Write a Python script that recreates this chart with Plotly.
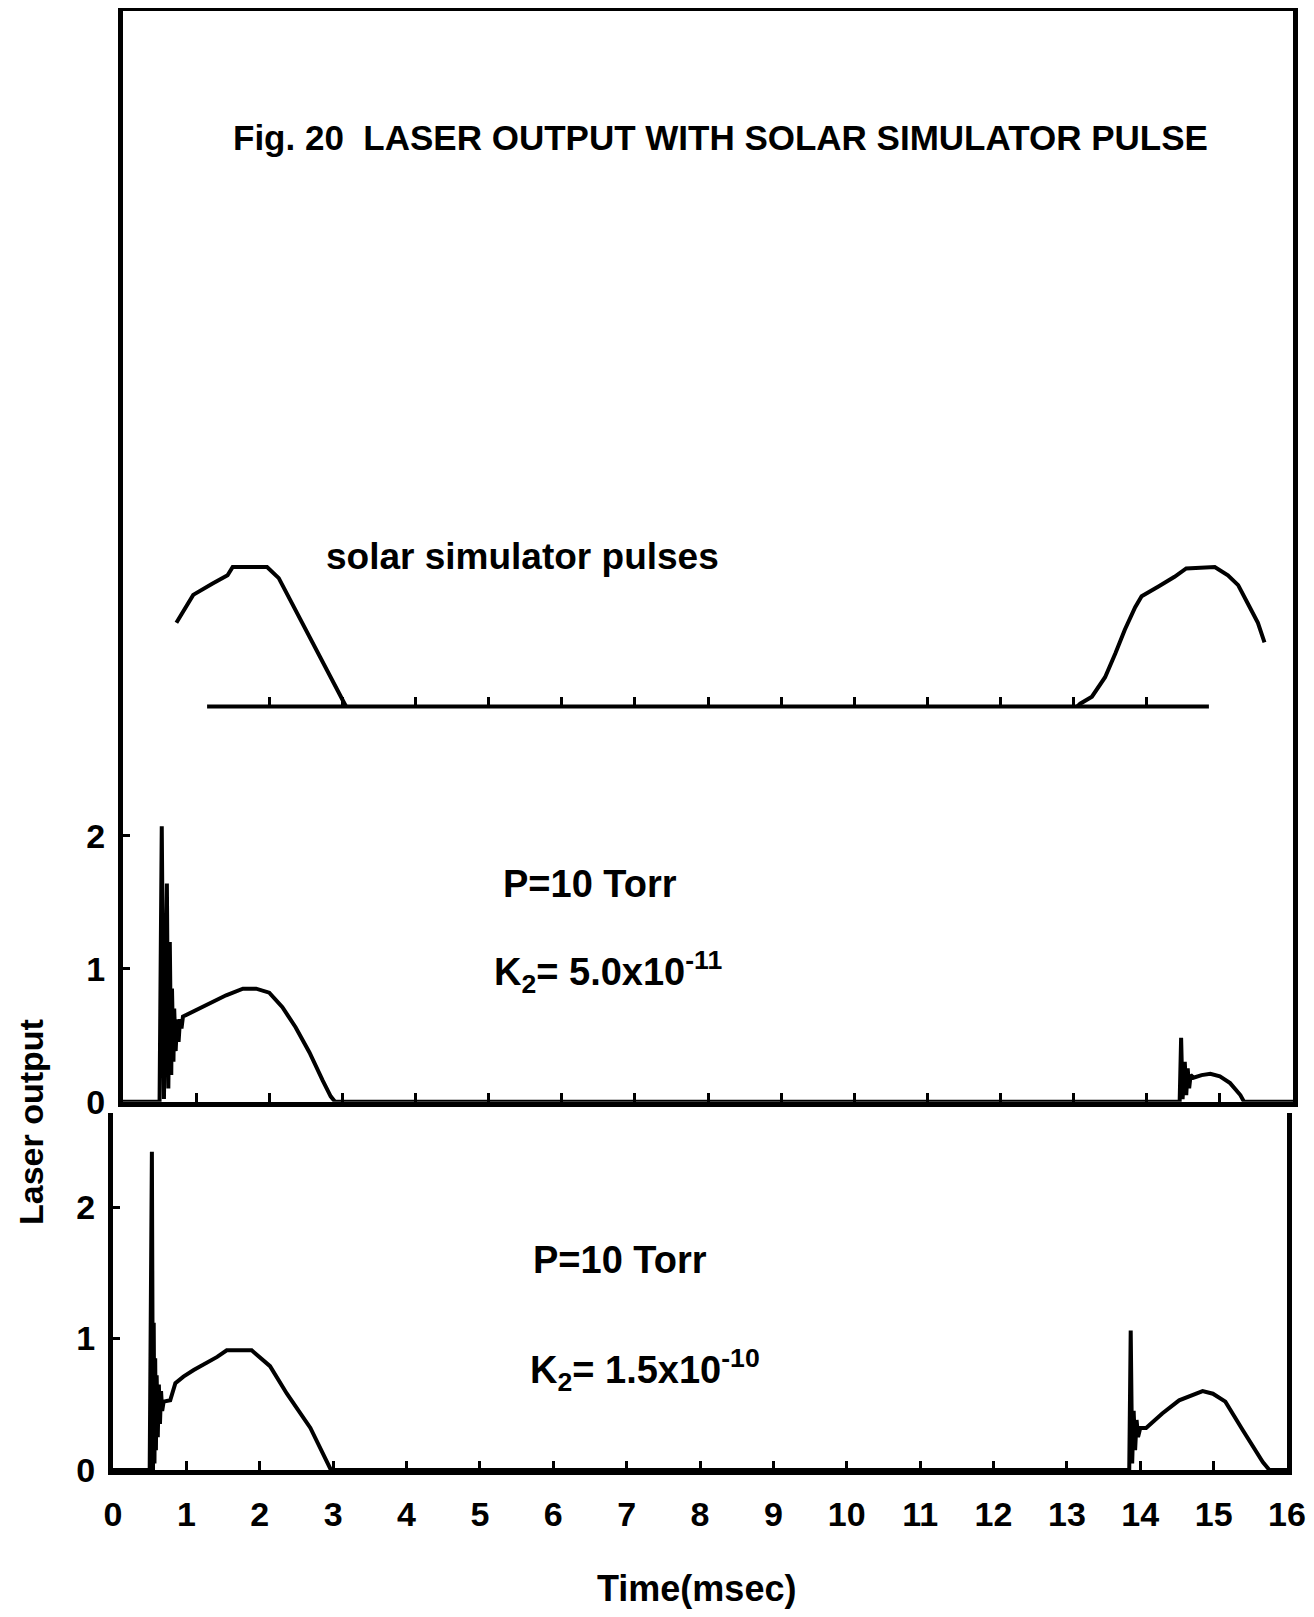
import plotly.graph_objects as go

# ---------------- data ----------------
# top panel: solar simulator pulses (relative units)
pulse1_t = [0.73, 0.83, 0.96, 1.22, 1.43, 1.50, 1.97, 2.13, 2.31, 2.57, 2.83, 2.99, 3.05]
pulse1_v = [0.60, 0.69, 0.80, 0.88, 0.94, 1.00, 1.00, 0.92, 0.74, 0.48, 0.22, 0.05, 0.00]
pulse2_t = [13.05, 13.09, 13.25, 13.43, 13.57, 13.70, 13.84, 13.93, 14.16, 14.38, 14.54,
            14.93, 15.11, 15.25, 15.38, 15.52, 15.61]
pulse2_v = [0.00, 0.02, 0.07, 0.21, 0.38, 0.55, 0.71, 0.79, 0.86, 0.93, 0.99,
            1.00, 0.94, 0.87, 0.74, 0.60, 0.46]
baseline_t = [1.15, 14.85]
baseline_v = [0.0, 0.0]
top_ticks = [2, 3, 4, 5, 6, 7, 8, 9, 10, 11, 12, 13, 14]

# middle panel: K2 = 5.0e-11
mid_t = [0.00, 0.50, 0.53, 0.56, 0.60, 0.62, 0.64, 0.66, 0.67, 0.69, 0.70, 0.72, 0.74, 0.76,
         0.78, 0.80, 0.82, 1.09, 1.41, 1.64, 1.82, 2.00, 2.18, 2.36, 2.55, 2.73, 2.84, 2.90,
         14.45, 14.47, 14.49, 14.52, 14.54, 14.56, 14.58, 14.60, 14.64, 14.75, 14.87, 15.00,
         15.14, 15.28, 15.33, 16.00]
mid_v = [0.00, 0.00, 2.07, 0.02, 1.64, 0.10, 1.20, 0.20, 0.85, 0.30, 0.70, 0.38, 0.62, 0.45,
         0.62, 0.55, 0.64, 0.71, 0.80, 0.85, 0.85, 0.82, 0.71, 0.56, 0.37, 0.16, 0.04, 0.00,
         0.00, 0.48, 0.02, 0.30, 0.05, 0.25, 0.10, 0.20, 0.18, 0.20, 0.21, 0.19,
         0.14, 0.05, 0.00, 0.00]

# bottom panel: K2 = 1.5e-10
bot_t = [0.00, 0.50, 0.53, 0.545, 0.555, 0.565, 0.575, 0.585, 0.595, 0.61, 0.625, 0.64, 0.655,
         0.67, 0.69, 0.78, 0.85, 0.96, 1.10, 1.42, 1.55, 1.89, 2.14, 2.37, 2.69, 2.92, 2.97,
         13.85, 13.87, 13.89, 13.91, 13.93, 13.95, 13.97, 14.00, 14.08, 14.30, 14.53, 14.85,
         14.99, 15.16, 15.40, 15.67, 15.76, 16.00]
bot_v = [0.00, 0.00, 2.42, 0.00, 1.12, 0.05, 0.85, 0.15, 0.72, 0.25, 0.65, 0.35, 0.60,
         0.45, 0.52, 0.53, 0.66, 0.71, 0.76, 0.86, 0.91, 0.91, 0.79, 0.58, 0.32, 0.05, 0.00,
         0.00, 1.06, 0.05, 0.45, 0.15, 0.38, 0.25, 0.32, 0.32, 0.43, 0.53, 0.60,
         0.58, 0.52, 0.30, 0.06, 0.00, 0.00]

x_ticks = list(range(0, 17))
y_ticks = [0, 1, 2]

# ---------------- layout helpers ----------------
PAGE_W, PAGE_H = 1314, 1617
OFF = 8  # default body margin of the html page
W, H = PAGE_W - 2 * OFF, PAGE_H - 2 * OFF
FONT = "Liberation Sans Narrow, Liberation Sans, Arial, sans-serif"


def fx(px):
    return (px - OFF) / W


def fy(py):
    return 1 - (py - OFF) / H


LW = 4
fig = go.Figure()

# bottom panel
fig.add_trace(go.Scatter(x=bot_t, y=bot_v, mode="lines", xaxis="x", yaxis="y",
                         line=dict(color="black", width=LW), showlegend=False))
# middle panel
fig.add_trace(go.Scatter(x=mid_t, y=mid_v, mode="lines", xaxis="x2", yaxis="y2",
                         line=dict(color="black", width=LW), showlegend=False))
# top panel
fig.add_trace(go.Scatter(x=baseline_t, y=baseline_v, mode="lines", xaxis="x3", yaxis="y3",
                         line=dict(color="black", width=LW), showlegend=False))
fig.add_trace(go.Scatter(x=pulse1_t, y=pulse1_v, mode="lines", xaxis="x3", yaxis="y3",
                         line=dict(color="black", width=LW), showlegend=False))
fig.add_trace(go.Scatter(x=pulse2_t, y=pulse2_v, mode="lines", xaxis="x3", yaxis="y3",
                         line=dict(color="black", width=LW), showlegend=False))

tickfont = dict(family=FONT, size=34, color="black", weight="bold")

# bottom axes
b_bottom, b_top, b_unit = 1470, 1113, 131.5
fig.update_layout(
    xaxis=dict(domain=[fx(113), fx(1287)], range=[0, 16], anchor="y", automargin=False,
               showline=True, linewidth=5, linecolor="black", mirror=False,
               ticks="inside", ticklen=9, tickwidth=3, tickcolor="black",
               tickvals=x_ticks, ticktext=[str(v) for v in x_ticks],
               tickfont=tickfont, ticklabelstandoff=10,
               showgrid=False, zeroline=False),
    yaxis=dict(domain=[fy(b_bottom), fy(b_top)], range=[0, (b_bottom - b_top) / b_unit],
               anchor="x", automargin=False,
               showline=True, linewidth=5, linecolor="black", mirror=True,
               ticks="inside", ticklen=7, tickwidth=3, tickcolor="black",
               tickvals=y_ticks, tickfont=tickfont, ticklabelstandoff=6,
               showgrid=False, zeroline=False),
)

# middle axes (box spans up to the top frame)
m_bottom, m_top, m_unit = 1101.7, 11, 133
fig.update_layout(
    xaxis2=dict(domain=[fx(123), fx(1293)], range=[0, 16], anchor="y2", automargin=False,
                showline=True, linewidth=5, linecolor="black", mirror=True,
                ticks="inside", ticklen=9, tickwidth=3, tickcolor="black",
                tickvals=x_ticks, showticklabels=False,
                showgrid=False, zeroline=False),
    yaxis2=dict(domain=[fy(m_bottom), fy(m_top)], range=[0, (m_bottom - m_top) / m_unit],
                anchor="x2", automargin=False,
                showline=True, linewidth=5, linecolor="black", mirror=True,
                ticks="inside", ticklen=7, tickwidth=3, tickcolor="black",
                tickvals=y_ticks, tickfont=tickfont, ticklabelstandoff=6,
                showgrid=False, zeroline=False),
)

# top panel axes (no frame, ticks along the baseline)
t_base, t_top, t_unit, t_pad = 706.5, 420, 139.5, 25
fig.update_layout(
    xaxis3=dict(domain=[fx(123), fx(1293)], range=[0, 16], anchor="free", position=fy(t_base),
                automargin=False,
                showline=False, ticks="inside", ticklen=10, tickwidth=3, tickcolor="black",
                tickvals=top_ticks, showticklabels=False,
                showgrid=False, zeroline=False),
    yaxis3=dict(domain=[fy(t_base + t_pad), fy(t_top)],
                range=[-t_pad / t_unit, (t_base - t_top) / t_unit], anchor="x3",
                automargin=False,
                visible=False, showgrid=False, zeroline=False),
)

textfont = dict(family=FONT, color="black", weight="bold")
annotations = [
    dict(text="Fig. 20  LASER OUTPUT WITH SOLAR SIMULATOR PULSE", x=fx(720), y=fy(137),
         font=dict(textfont, size=35)),
    dict(text="solar simulator pulses", x=fx(522), y=fy(557), font=dict(textfont, size=37)),
    dict(text="P=10 Torr", x=fx(590), y=fy(884), font=dict(textfont, size=38)),
    dict(text="K<sub>2</sub>= 5.0x10<sup>-11</sup>", x=fx(608), y=fy(972),
         font=dict(textfont, size=38)),
    dict(text="P=10 Torr", x=fx(620), y=fy(1260), font=dict(textfont, size=38)),
    dict(text="K<sub>2</sub>= 1.5x10<sup>-10</sup>", x=fx(645), y=fy(1370),
         font=dict(textfont, size=38)),
    dict(text="Laser output", x=fx(31), y=fy(1122), textangle=-90,
         font=dict(textfont, size=34)),
    dict(text="Time(msec)", x=fx(697), y=fy(1588), font=dict(textfont, size=36)),
]
for a in annotations:
    a.update(xref="paper", yref="paper", showarrow=False, xanchor="center", yanchor="middle")

fig.update_layout(
    template="none",
    width=W, height=H,
    margin=dict(l=0, r=0, t=0, b=0, autoexpand=False),
    paper_bgcolor="white", plot_bgcolor="rgba(0,0,0,0)",
    annotations=annotations,
    showlegend=False,
)

fig.write_html("out.html")
